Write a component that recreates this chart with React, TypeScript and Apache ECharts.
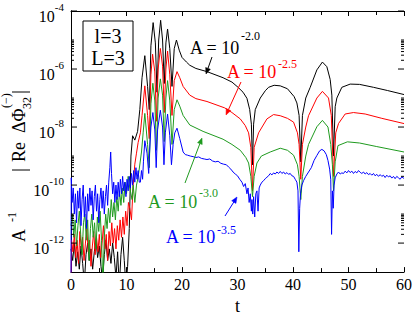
import React, { useEffect, useRef } from "react";
import * as echarts from "echarts";

const SERIF = "Liberation Serif";

// x axis (t) and y axis (log10 of the plotted quantity)
const xTickValues = [0, 10, 20, 30, 40, 50, 60];
const yLabelExponents = [-12, -10, -8, -6, -4];
const yMinorDecades = [-12, -10, -8, -6];
const yMinorMultipliers = [2, 3, 4, 5, 6, 7, 8, 9, 10];

// [t, log10(A^-1 |Re dPhi|)]
const blackA20: [number, number][] = [
  [0, -12.2], [0.3, -12.6], [0.6, -12.0], [0.9, -12.8], [1.2, -12.3], [1.5, -12.9], [1.8, -12.1], [2.1, -12.7],
  [2.4, -13.4], [2.7, -12.4], [3.0, -12.0], [3.3, -12.6], [3.6, -12.2], [3.9, -12.9], [4.2, -12.3], [4.5, -11.9],
  [4.8, -12.5], [5.1, -12.1], [5.4, -12.8], [5.7, -13.3], [6.0, -12.4], [6.3, -11.9], [6.6, -12.6], [6.9, -12.2],
  [7.2, -12.7], [7.5, -12.0], [7.8, -12.5], [8.1, -13.2], [8.4, -12.3], [8.7, -13.5], [9.0, -12.4], [9.3, -11.8],
  [9.6, -12.6], [9.9, -13.5], [10.2, -12.8], [10.5, -11.5], [10.8, -9.0], [11.1, -8.3], [11.5, -8.45], [12.0, -8.15],
  [12.4, -7.4], [12.8, -6.3], [13.3, -5.54], [13.8, -6.6], [14.1, -7.4], [14.4, -5.2], [14.8, -4.4], [15.2, -5.1],
  [15.5, -6.8], [15.8, -5.0], [16.15, -4.32], [16.5, -5.0], [16.8, -6.5], [17.1, -5.1], [17.4, -4.62], [17.8, -5.3],
  [18.2, -6.6], [18.6, -5.3], [19.0, -5.0], [19.5, -5.35], [20.0, -5.6], [20.8, -5.76], [21.4, -5.87], [22.5, -5.98],
  [24.5, -6.09], [27.4, -6.3], [29.0, -6.45], [30.1, -6.63], [31.0, -6.8], [31.7, -7.01], [32.2, -7.4], [32.5, -7.9],
  [32.7, -9.3], [32.9, -7.9], [33.2, -7.4], [34.1, -7.0], [35.0, -6.75], [35.6, -6.63], [36.6, -6.56], [37.7, -6.58],
  [39.0, -6.68], [40.2, -6.95], [40.7, -7.17], [41.1, -7.6], [41.4, -9.2], [41.7, -7.6], [42.3, -7.0], [43.1, -6.63],
  [44.3, -6.03], [45.3, -5.76], [46.1, -5.92], [46.7, -6.36], [47.0, -6.9], [47.3, -9.0], [47.6, -7.3], [47.9, -7.0],
  [48.8, -6.63], [50.3, -6.52], [52.0, -6.53], [54.5, -6.63], [57.0, -6.74], [60.0, -6.88],
];

const redA25: [number, number][] = [
  [0, -13.5], [0.1, -11.9], [0.35, -12.3], [0.6, -11.7], [0.85, -12.5], [1.1, -11.9], [1.35, -12.7], [1.6, -11.6],
  [1.85, -12.2], [2.1, -11.8], [2.35, -12.6], [2.6, -12.0], [2.85, -11.5], [3.1, -12.3], [3.35, -11.9], [3.6, -12.8],
  [3.85, -12.1], [4.1, -11.6], [4.35, -12.4], [4.6, -11.8], [4.85, -12.3], [5.1, -11.7], [5.35, -12.5], [5.6, -12.0],
  [5.85, -11.4], [6.1, -12.2], [6.35, -11.7], [6.6, -12.6], [6.85, -11.6], [7.1, -12.1], [7.35, -11.3], [7.6, -12.0],
  [7.85, -11.5], [8.1, -12.2], [8.35, -11.4], [8.6, -11.9], [8.85, -11.2], [9.1, -11.8], [9.35, -11.1], [9.6, -11.7],
  [9.85, -10.9], [10.1, -11.4], [10.35, -10.6], [10.6, -10.8], [10.9, -11.2], [11.2, -10.0], [11.5, -9.28], [11.8, -8.9],
  [12.1, -8.53], [12.5, -8.2], [12.8, -7.6], [13.3, -6.58], [13.8, -7.6], [14.1, -8.4], [14.4, -6.2], [14.7, -5.49],
  [15.1, -6.1], [15.4, -7.8], [15.7, -6.0], [16.1, -5.29], [16.5, -5.9], [16.8, -7.5], [17.1, -6.0], [17.4, -5.38],
  [17.8, -6.2], [18.2, -7.6], [18.6, -6.4], [19.1, -6.09], [19.6, -6.3], [20.2, -6.6], [21.4, -6.9], [22.5, -7.02],
  [24.5, -7.12], [27.7, -7.34], [29.0, -7.5], [30.5, -7.72], [31.4, -7.95], [32.0, -8.2], [32.4, -8.7], [32.7, -10.2],
  [33.0, -8.7], [33.8, -8.2], [35.3, -7.72], [36.5, -7.57], [37.7, -7.61], [39.0, -7.7], [40.1, -7.83], [40.8, -8.2],
  [41.1, -8.6], [41.4, -9.8], [41.7, -8.6], [42.3, -8.0], [42.8, -7.61], [44.3, -7.0], [45.3, -6.77], [46.4, -7.0],
  [46.9, -7.6], [47.3, -9.7], [47.7, -8.2], [48.2, -7.88], [49.4, -7.55], [50.9, -7.5], [53.0, -7.55], [56.0, -7.7],
  [60.0, -7.88],
];

const greenA30: [number, number][] = [
  [0, -11.4], [0.25, -11.0], [0.5, -11.8], [0.75, -11.2], [1.0, -12.1], [1.25, -11.4], [1.5, -10.9], [1.75, -11.7],
  [2.0, -12.4], [2.25, -11.3], [2.5, -11.0], [2.75, -11.9], [3.0, -11.2], [3.25, -12.6], [3.5, -11.5], [3.75, -11.0],
  [4.0, -11.8], [4.25, -11.3], [4.5, -12.2], [4.75, -11.1], [5.0, -11.6], [5.25, -10.9], [5.5, -11.9], [5.75, -13.5],
  [6.0, -11.8], [6.25, -11.0], [6.5, -11.5], [6.75, -10.8], [7.0, -11.3], [7.25, -10.5], [7.5, -11.1], [7.75, -10.6],
  [8.0, -11.2], [8.25, -10.4], [8.5, -10.9], [8.75, -10.2], [9.0, -10.7], [9.25, -10.1], [9.5, -10.6], [9.75, -9.9],
  [10.0, -10.3], [10.3, -9.7], [10.6, -10.1], [11.0, -10.5], [11.2, -10.0], [11.5, -10.6], [11.8, -10.0], [12.1, -9.73],
  [12.7, -8.86], [13.0, -8.2], [13.3, -7.53], [13.8, -8.6], [14.1, -9.4], [14.4, -7.2], [14.75, -6.49], [15.1, -7.1],
  [15.4, -8.8], [15.7, -7.0], [16.1, -6.34], [16.5, -6.9], [16.8, -8.5], [17.1, -7.0], [17.4, -6.4], [17.8, -7.1],
  [18.2, -8.6], [18.6, -7.4], [19.1, -7.06], [19.6, -7.28], [20.2, -7.6], [21.4, -7.93], [23.8, -8.15], [27.4, -8.42],
  [29.0, -8.6], [30.5, -8.8], [31.5, -9.05], [32.0, -9.24], [32.4, -9.7], [32.7, -10.4], [33.0, -9.7], [33.5, -9.24],
  [34.3, -9.0], [35.9, -8.86], [37.7, -8.73], [39.0, -8.8], [40.1, -8.97], [40.8, -9.3], [41.1, -9.7], [41.4, -10.5],
  [41.7, -9.7], [42.3, -9.0], [42.8, -8.6], [44.3, -7.99], [45.3, -7.77], [46.3, -8.0], [46.8, -8.6], [47.1, -9.3],
  [47.3, -10.2], [47.6, -9.2], [48.1, -8.64], [49.8, -8.51], [52.0, -8.55], [55.0, -8.67], [60.0, -8.86],
];

const blueA35: [number, number][] = [
  [0, -13.5], [0.05, -9.75], [0.2, -10.6], [0.4, -10.1], [0.6, -11.0], [0.8, -10.3], [1.0, -11.3], [1.2, -10.2],
  [1.4, -10.8], [1.6, -10.1], [1.8, -11.4], [2.0, -10.5], [2.2, -10.0], [2.4, -11.1], [2.6, -10.4], [2.8, -11.5],
  [3.0, -10.3], [3.2, -10.9], [3.4, -10.1], [3.6, -10.7], [3.8, -10.2], [4.0, -11.2], [4.2, -10.4], [4.4, -10.0],
  [4.6, -10.9], [4.8, -10.3], [5.0, -11.3], [5.2, -10.5], [5.4, -10.1], [5.6, -10.8], [5.8, -10.2], [6.0, -11.0],
  [6.2, -10.4], [6.4, -10.0], [6.6, -10.7], [6.8, -9.9], [7.0, -9.4], [7.15, -8.86], [7.3, -9.6], [7.5, -10.3],
  [7.7, -9.9], [7.9, -10.6], [8.1, -10.0], [8.3, -10.5], [8.5, -9.9], [8.7, -10.4], [8.9, -9.8], [9.1, -10.3],
  [9.3, -9.7], [9.5, -10.2], [9.7, -9.9], [9.9, -10.4], [10.1, -9.8], [10.3, -10.2], [10.5, -9.7], [10.7, -10.1],
  [10.9, -9.6], [11.1, -10.0], [11.3, -9.5], [11.5, -9.9], [11.7, -9.4], [11.9, -9.8], [12.1, -9.5], [12.3, -9.9],
  [12.5, -9.9], [12.7, -9.5], [12.9, -9.8], [13.05, -9.2], [13.3, -8.47], [13.7, -8.9], [14.0, -9.6], [14.15, -8.9],
  [14.4, -8.0], [14.75, -7.5], [15.1, -8.1], [15.35, -9.4], [15.6, -8.1], [16.1, -7.42], [16.5, -8.0], [16.75, -9.3],
  [17.0, -8.2], [17.4, -7.55], [17.8, -8.3], [18.1, -9.3], [18.4, -8.6], [18.7, -8.2], [19.1, -8.04], [19.6, -8.4],
  [20.2, -8.86], [20.6, -8.95], [21.0, -8.97], [21.5, -9.0], [22.0, -9.02], [22.5, -9.05], [23.0, -9.03], [23.5, -9.08],
  [24.0, -9.1], [24.5, -9.12], [25.0, -9.1], [25.5, -9.17], [26.0, -9.2], [26.5, -9.18], [27.0, -9.25], [27.5, -9.28],
  [28.0, -9.3], [28.4, -9.38], [28.8, -9.45], [29.2, -9.55], [29.6, -9.62], [30.0, -9.68], [30.4, -9.8], [30.8, -9.9],
  [31.1, -10.05], [31.4, -9.95], [31.7, -10.3], [31.9, -10.1], [32.1, -10.6], [32.3, -10.3], [32.5, -10.9], [32.6, -10.5],
  [32.75, -11.0], [32.9, -10.4], [33.1, -11.1], [33.3, -10.3], [33.5, -10.2], [33.7, -10.9], [33.9, -10.1], [34.1, -10.0],
  [34.4, -9.9], [34.7, -9.85], [35.0, -9.78], [35.3, -9.73], [35.6, -9.68], [35.9, -9.6], [36.2, -9.65], [36.5, -9.58],
  [36.8, -9.62], [37.1, -9.55], [37.4, -9.6], [37.7, -9.53], [38.0, -9.6], [38.3, -9.55], [38.6, -9.62], [38.9, -9.57],
  [39.2, -9.63], [39.5, -9.6], [39.8, -9.68], [40.1, -9.7], [40.4, -9.8], [40.7, -9.9], [40.9, -10.2], [41.05, -12.3],
  [41.2, -10.8], [41.35, -10.3], [41.6, -10.0], [41.9, -9.85], [42.3, -9.7], [42.8, -9.55], [43.3, -9.4], [43.8, -9.15],
  [44.3, -8.98], [44.8, -8.82], [45.2, -8.77], [45.6, -8.82], [46.0, -8.95], [46.3, -9.15], [46.6, -9.45], [46.8, -9.8],
  [46.95, -11.7], [47.1, -10.2], [47.25, -10.8], [47.4, -10.0], [47.6, -9.75], [47.9, -9.62], [48.2, -9.55], [48.5, -9.62],
  [48.8, -9.58], [49.1, -9.6], [49.4, -9.52], [49.7, -9.58], [50.0, -9.5], [50.3, -9.57], [50.6, -9.52], [50.9, -9.6],
  [51.2, -9.53], [51.5, -9.58], [51.8, -9.5], [52.1, -9.56], [52.4, -9.6], [52.7, -9.55], [53.0, -9.62], [53.3, -9.57],
  [53.6, -9.64], [53.9, -9.6], [54.2, -9.66], [54.5, -9.6], [54.8, -9.68], [55.1, -9.63], [55.4, -9.7], [55.7, -9.64],
  [56.0, -9.7], [56.3, -9.66], [56.6, -9.74], [56.9, -9.66], [57.2, -9.72], [57.5, -9.68], [57.8, -9.76], [58.1, -9.7],
  [58.4, -9.78], [58.7, -9.7], [59.0, -9.75], [59.3, -9.8], [59.6, -9.72], [60.0, -9.77],
];

const seriesDefs = [
  { name: "A = 10^-2.0", color: "#000000", points: blackA20 },
  { name: "A = 10^-2.5", color: "#ff0000", points: redA25 },
  { name: "A = 10^-3.0", color: "#1f9a1f", points: greenA30 },
  { name: "A = 10^-3.5", color: "#0000ff", points: blueA35 },
];

const annotations = [
  { main: "A = 10", sup: "-2.0", color: "#000000", x: 190, base: 54, supDy: 18, arrow: [212, 57, 206, 74] },
  { main: "A = 10", sup: "-2.5", color: "#ff0000", x: 227, base: 78, supDy: 14, arrow: [241, 82, 226, 115] },
  { main: "A = 10", sup: "-3.0", color: "#1f9a1f", x: 148, base: 208, supDy: 15, arrow: [185, 183, 202, 138] },
  { main: "A = 10", sup: "-3.5", color: "#0000ff", x: 166, base: 243, supDy: 13, arrow: [225, 216, 237, 197] },
];

function arrowElems(x1: number, y1: number, x2: number, y2: number, color: string) {
  const dx = x2 - x1, dy = y2 - y1;
  const len = Math.sqrt(dx * dx + dy * dy);
  const ux = dx / len, uy = dy / len;
  const hl = 6, hw = 2.5;
  const bx = x2 - ux * hl, by = y2 - uy * hl;
  return [
    { type: "line", z: 100, shape: { x1, y1, x2: bx, y2: by }, style: { stroke: color, lineWidth: 1 } },
    {
      type: "polygon", z: 100,
      shape: { points: [[x2, y2], [bx - uy * hw, by + ux * hw], [bx + uy * hw, by - ux * hw]] },
      style: { fill: color, stroke: color, lineWidth: 0.5 },
    },
  ];
}

function buildOption() {
  const axisLine = { lineStyle: { color: "#000", width: 1 } };
  const tickStyle = { lineStyle: { color: "#000", width: 1 } };
  const yLabelRich = {
    b: { fontSize: 16, fontFamily: SERIF, color: "#000", padding: [10, 0, 0, 0] },
    s: { fontSize: 11, fontFamily: SERIF, color: "#000", padding: [0, 0, 8, 0] },
  };
  const yFormatter = (v: number) => {
    const e = Math.round(Math.log10(v));
    return yLabelExponents.includes(e) ? `{b|10}{s|${e}}` : "";
  };

  // y ticks (major at labelled decades, minor at k * 10^e above them), drawn on the log scale
  const yTickData: number[][] = [];
  for (const e of yLabelExponents) yTickData.push([0, Math.pow(10, e), 6]);
  for (const e of yMinorDecades) for (const k of yMinorMultipliers) yTickData.push([0, k * Math.pow(10, e), 3]);

  const graphic: any[] = [];
  // legend-like box
  graphic.push({ type: "rect", z: 100, shape: { x: 83, y: 21, width: 50, height: 50 }, style: { fill: "#fff", stroke: "#000", lineWidth: 1 } });
  graphic.push({ type: "text", z: 101, x: 108, y: 36, style: { text: "l=3", fontSize: 20, fontFamily: SERIF, fill: "#000", textAlign: "center", textVerticalAlign: "middle" } });
  graphic.push({ type: "text", z: 101, x: 108, y: 58, style: { text: "L=3", fontSize: 20, fontFamily: SERIF, fill: "#000", textAlign: "center", textVerticalAlign: "middle" } });

  for (const a of annotations) {
    graphic.push({ type: "text", z: 101, x: a.x, y: a.base - 6, style: { text: a.main, fontSize: 18, fontFamily: SERIF, fill: a.color, textAlign: "left", textVerticalAlign: "middle" } });
    graphic.push({ type: "text", z: 101, x: a.x + 51, y: a.base - a.supDy, style: { text: a.sup, fontSize: 12, fontFamily: SERIF, fill: a.color, textAlign: "left", textVerticalAlign: "middle" } });
    const [x1, y1, x2, y2] = a.arrow;
    graphic.push(...arrowElems(x1, y1, x2, y2, a.color));
  }

  // rotated y axis title: A^-1 |Re ΔΦ_32^(−)|
  const tf = { fontFamily: SERIF, fill: "#000", textAlign: "left", textVerticalAlign: "middle" };
  graphic.push({
    type: "group", x: 19, y: 242, rotation: Math.PI / 2, z: 100,
    children: [
      { type: "text", x: 0, y: 0, style: { ...tf, text: "A", fontSize: 18 } },
      { type: "text", x: 20, y: -7, style: { ...tf, text: "-1", fontSize: 12 } },
      { type: "line", shape: { x1: 72, y1: -7, x2: 72, y2: 11 }, style: { stroke: "#000", lineWidth: 1 } },
      { type: "text", x: 80, y: 0, style: { ...tf, text: "Re", fontSize: 18 } },
      { type: "text", x: 109, y: 0, style: { ...tf, text: "ΔΦ", fontSize: 18 } },
      { type: "text", x: 133, y: 8, style: { ...tf, text: "32", fontSize: 12 } },
      { type: "text", x: 134, y: -13, style: { ...tf, text: "(−)", fontSize: 12 } },
      { type: "line", shape: { x1: 150, y1: -7, x2: 150, y2: 11 }, style: { stroke: "#000", lineWidth: 1 } },
    ],
  });

  const lineSeries = seriesDefs.map((s) => ({
    type: "line",
    name: s.name,
    xAxisIndex: 0,
    yAxisIndex: 0,
    showSymbol: false,
    symbol: "none",
    clip: true,
    lineStyle: { color: s.color, width: 1 },
    itemStyle: { color: s.color },
    data: s.points.map(([t, e]) => [t, Math.pow(10, e)]),
  }));

  const tickSeries = {
    type: "custom",
    name: "yticks",
    coordinateSystem: "cartesian2d",
    xAxisIndex: 0,
    yAxisIndex: 0,
    silent: true,
    clip: false,
    z: 5,
    data: yTickData,
    encode: { x: 0, y: 1 },
    renderItem: (params: any, api: any) => {
      const v = api.value(1);
      const len = api.value(2);
      const p = api.coord([0, v]);
      const cs = params.coordSys;
      const st = { stroke: "#000", lineWidth: 1 };
      return {
        type: "group",
        children: [
          { type: "line", shape: { x1: cs.x, y1: p[1], x2: cs.x + len, y2: p[1] }, style: st },
          { type: "line", shape: { x1: cs.x + cs.width, y1: p[1], x2: cs.x + cs.width - len, y2: p[1] }, style: st },
        ],
      };
    },
  };

  return {
    animation: false,
    backgroundColor: "#fff",
    textStyle: { fontFamily: SERIF },
    grid: { left: 71, right: 11, top: 11, bottom: 33, containLabel: false },
    xAxis: [
      {
        type: "value", min: xTickValues[0], max: xTickValues[xTickValues.length - 1], interval: 10, position: "bottom",
        axisLine, axisTick: { inside: true, length: 5, ...tickStyle },
        minorTick: { show: true, splitNumber: 2, length: 4, lineStyle: { color: "#000", width: 1 } },
        splitLine: { show: false },
        axisLabel: { fontSize: 16, fontFamily: SERIF, color: "#000", margin: 4 },
        name: "t", nameLocation: "middle", nameGap: 23,
        nameTextStyle: { fontSize: 18, fontFamily: SERIF, color: "#000" },
      },
      {
        type: "value", min: 0, max: 60, interval: 10, position: "top",
        axisLine, axisTick: { inside: true, length: 5, ...tickStyle },
        minorTick: { show: true, splitNumber: 2, length: 4, lineStyle: { color: "#000", width: 1 } },
        splitLine: { show: false }, axisLabel: { show: false },
      },
    ],
    yAxis: [
      {
        type: "log", logBase: 10, min: 1e-13, max: 1e-4, interval: 1, position: "left",
        axisLine, axisTick: { show: false },
        splitLine: { show: false },
        axisLabel: { formatter: yFormatter, rich: yLabelRich, margin: 7 },
      },
      {
        type: "log", logBase: 10, min: 1e-13, max: 1e-4, interval: 1, position: "right",
        axisLine, axisTick: { show: false },
        splitLine: { show: false }, axisLabel: { show: false },
      },
    ],
    series: [...lineSeries, tickSeries],
    graphic,
  };
}

export default function App() {
  const ref = useRef<HTMLDivElement>(null);
  useEffect(() => {
    const chart = echarts.init(ref.current!, null, { renderer: "svg" });
    chart.setOption(buildOption() as any);
    return () => chart.dispose();
  }, []);
  return <div ref={ref} style={{ position: "absolute", left: 0, top: 0, width: 415, height: 320 }} />;
}
